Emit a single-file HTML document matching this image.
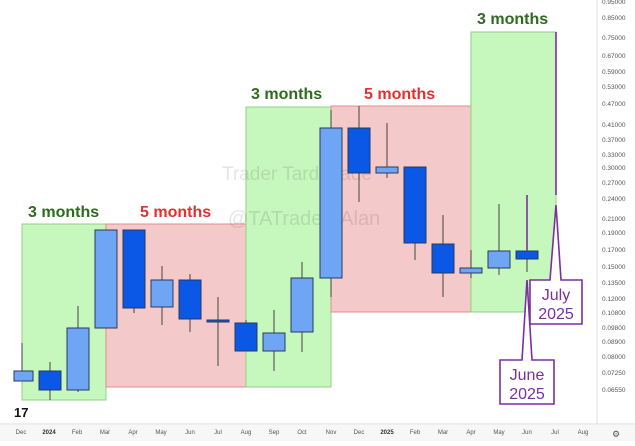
<!DOCTYPE html><html><head><style>body{margin:0;background:#fff;width:635px;height:441px;overflow:hidden;font-family:"Liberation Sans",sans-serif}</style></head><body>
<svg width="635" height="441" xmlns="http://www.w3.org/2000/svg" font-family="Liberation Sans, sans-serif">
<rect width="635" height="441" fill="#fff"/>
<g stroke-width="1">
<rect x="22" y="224" width="84" height="176" fill="#c6f7bd" stroke="#8fd184"/>
<rect x="106" y="224" width="140" height="163" fill="#f4c9c9" stroke="#e88a8a"/>
<rect x="246" y="107" width="85" height="280" fill="#c6f7bd" stroke="#8fd184"/>
<rect x="331" y="106" width="140" height="206" fill="#f4c9c9" stroke="#e88a8a"/>
<rect x="471" y="32" width="85" height="280" fill="#c6f7bd" stroke="#8fd184"/>
</g>
<text x="222" y="180" font-size="19" fill="#000" opacity="0.1">Trader Tardigrade</text>
<text x="228" y="225" font-size="20" fill="#000" opacity="0.1">@TATrader_Alan</text>
<g font-weight="bold" font-size="16">
<text x="28" y="217" fill="#2e6b1f">3 months</text>
<text x="140" y="217" fill="#e03131">5 months</text>
<text x="251" y="99" fill="#2e6b1f">3 months</text>
<text x="364" y="99" fill="#e03131">5 months</text>
<text x="477" y="24" fill="#2e6b1f">3 months</text>
</g>
<g stroke="#444" stroke-width="1">
<line x1="22" y1="343" x2="22" y2="381"/><line x1="50" y1="362" x2="50" y2="400"/><line x1="78" y1="306" x2="78" y2="392"/>
<line x1="134" y1="230" x2="134" y2="313"/><line x1="162" y1="266" x2="162" y2="325"/><line x1="190" y1="274" x2="190" y2="332"/>
<line x1="218" y1="297" x2="218" y2="366"/><line x1="246" y1="320" x2="246" y2="351"/><line x1="274" y1="310" x2="274" y2="371"/>
<line x1="302" y1="262" x2="302" y2="352"/><line x1="331" y1="110" x2="331" y2="297"/><line x1="359" y1="106" x2="359" y2="202"/>
<line x1="387" y1="123" x2="387" y2="178"/><line x1="415" y1="167" x2="415" y2="260"/><line x1="443" y1="215" x2="443" y2="297"/>
<line x1="471" y1="250" x2="471" y2="278"/><line x1="499" y1="204" x2="499" y2="275"/><line x1="527" y1="240" x2="527" y2="272"/>
</g>
<g stroke="#2a3a5a" stroke-width="1">
<rect x="14" y="371" width="19" height="10" fill="#6ea6f5"/>
<rect x="39" y="371" width="22" height="19" fill="#0b57e6"/>
<rect x="67" y="328" width="22" height="62" fill="#6ea6f5"/>
<rect x="95" y="230" width="22" height="98" fill="#6ea6f5"/>
<rect x="123" y="230" width="22" height="78" fill="#0b57e6"/>
<rect x="151" y="280" width="22" height="27" fill="#6ea6f5"/>
<rect x="179" y="280" width="22" height="39" fill="#0b57e6"/>
<rect x="207" y="320" width="22" height="2" fill="#0b57e6"/>
<rect x="235" y="323" width="22" height="28" fill="#0b57e6"/>
<rect x="263" y="333" width="22" height="18" fill="#6ea6f5"/>
<rect x="291" y="278" width="22" height="54" fill="#6ea6f5"/>
<rect x="320" y="128" width="22" height="150" fill="#6ea6f5"/>
<rect x="348" y="128" width="22" height="45" fill="#0b57e6"/>
<rect x="376" y="167" width="22" height="6" fill="#6ea6f5"/>
<rect x="404" y="167" width="22" height="76" fill="#0b57e6"/>
<rect x="432" y="244" width="22" height="29" fill="#0b57e6"/>
<rect x="460" y="268" width="22" height="5" fill="#6ea6f5"/>
<rect x="488" y="251" width="22" height="17" fill="#6ea6f5"/>
<rect x="516" y="251" width="22" height="8" fill="#0b57e6"/>
</g>
<g stroke="#7b2fa0" stroke-width="1.6" fill="none">
<line x1="527" y1="195" x2="527" y2="250"/>
<line x1="556" y1="32" x2="556" y2="195"/>
<path d="M530 280 L550 280 L556 205 L561 280 L582 280 L582 324 L530 324 Z" fill="#fff"/>
<path d="M500 360 L522 360 L527 280 L532 360 L554 360 L554 404 L500 404 Z" fill="#fff"/>
</g>
<g fill="#7b2fa0" font-size="16" text-anchor="middle">
<text x="556" y="300">July</text><text x="556" y="319">2025</text>
<text x="527" y="380">June</text><text x="527" y="399">2025</text>
</g>
<line x1="597" y1="0" x2="597" y2="424" stroke="#ddd"/>
<line x1="0" y1="424" x2="635" y2="424" stroke="#ddd"/>
<rect x="0" y="425" width="635" height="16" fill="#f7f7f7"/>
<text x="14" y="417" font-size="13" font-weight="bold" fill="#111">17</text>
<g font-size="6.5" fill="#555">
<text x="602" y="4">0.95000</text><text x="602" y="20">0.85000</text><text x="602" y="40">0.75000</text><text x="602" y="58">0.67000</text><text x="602" y="74">0.59000</text><text x="602" y="89">0.53000</text><text x="602" y="106">0.47000</text><text x="602" y="127">0.41000</text><text x="602" y="142">0.37000</text><text x="602" y="157">0.33000</text><text x="602" y="170">0.30000</text><text x="602" y="185">0.27000</text><text x="602" y="201">0.24000</text><text x="602" y="221">0.21000</text><text x="602" y="235">0.19000</text><text x="602" y="252">0.17000</text><text x="602" y="269">0.15000</text><text x="602" y="285">0.13500</text><text x="602" y="301">0.12000</text><text x="602" y="315">0.10800</text><text x="602" y="330">0.09800</text><text x="602" y="344">0.08900</text><text x="602" y="359">0.08000</text><text x="602" y="375">0.07250</text><text x="602" y="392">0.06550</text>
</g>
<text x="616" y="437" font-size="9" fill="#555" text-anchor="middle">⚙</text>
<g font-size="6" fill="#555" text-anchor="middle">
<text x="21" y="434">Dec</text><text x="49" y="434" font-weight="bold" fill="#333">2024</text><text x="77" y="434">Feb</text><text x="105" y="434">Mar</text><text x="133" y="434">Apr</text><text x="161" y="434">May</text><text x="190" y="434">Jun</text><text x="218" y="434">Jul</text><text x="246" y="434">Aug</text><text x="274" y="434">Sep</text><text x="302" y="434">Oct</text><text x="331" y="434">Nov</text><text x="359" y="434">Dec</text><text x="387" y="434" font-weight="bold" fill="#333">2025</text><text x="415" y="434">Feb</text><text x="443" y="434">Mar</text><text x="471" y="434">Apr</text><text x="499" y="434">May</text><text x="527" y="434">Jun</text><text x="555" y="434">Jul</text><text x="583" y="434">Aug</text>
</g>
</svg>
</body></html>
